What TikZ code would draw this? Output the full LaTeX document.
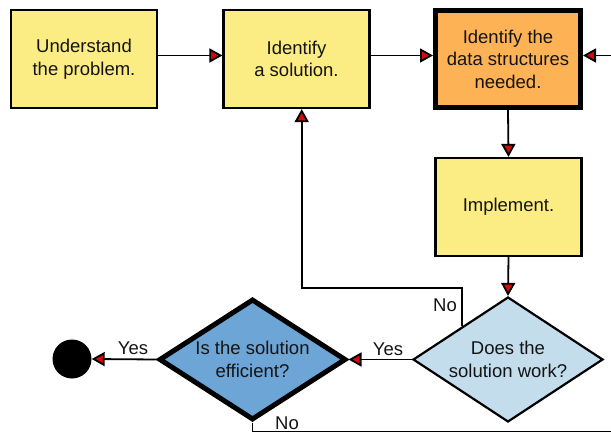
\documentclass[tikz,border=0pt]{standalone}
\usepackage{fontspec}
\setmainfont{Liberation Sans}
\usetikzlibrary{shapes.geometric,arrows.meta,calc}
\definecolor{boxyellow}{RGB}{251,236,132}
\definecolor{boxorange}{RGB}{253,178,85}
\definecolor{dialight}{RGB}{195,221,237}
\definecolor{diadark}{RGB}{108,165,214}
\definecolor{arrowred}{RGB}{210,10,10}
\begin{document}
\begin{tikzpicture}[x=1pt,y=-1pt,
  txt/.style={font=\fontsize{18.5}{22.5}\selectfont, text=black!92},
  box/.style={txt, draw, line width=2.2pt, fill=boxyellow, minimum width=146pt, minimum height=98pt, inner sep=0pt, align=center},
  thickbox/.style={box, line width=5pt, fill=boxorange, minimum width=145pt, minimum height=97pt},
  dia/.style={txt, diamond, draw, line width=2.2pt, fill=dialight, minimum width=190pt, minimum height=125pt, inner sep=0pt, align=center, aspect=1.5},
  thickdia/.style={dia, line width=5pt, fill=diadark, minimum width=187pt, minimum height=121pt},
  lbl/.style={txt, inner sep=0pt},
  conn/.style={line width=1.8pt, -{Triangle[length=13pt,width=14pt,fill=arrowred]}},
  plainline/.style={line width=1.8pt},
]
\useasboundingbox (0,0) rectangle (611,433);

\node[box] (box1) at (84,59) {Understand\\the problem.};
\node[box] (box2) at (296.5,59) {Identify\\a solution.};
\node[thickbox] (box3) at (508,59) {Identify the\\data structures\\needed.};
\node[box] (box4) at (508.5,207) {Implement.};
\node[dia] (dia2) at (508,359.5) {Does the\\solution work?};
\node[thickdia] (dia1) at (252.5,359.5) {Is the solution\\efficient?};
\node[circle, fill=black, minimum size=39pt, inner sep=0pt] (endpt) at (72,359) {};

\coordinate (righttop) at (612,55.5);
\coordinate (rightlow) at (612,431.5);
\coordinate (noturn) at (301.7,287.7);
\coordinate (nostart) at ($(dia2.west)!0.523!(dia2.north)$);

\draw[conn] ([yshift=3.5pt]box1.east) -- ([yshift=3.5pt]box2.west);
\draw[conn] ([yshift=3.5pt]box2.east) -- ([yshift=3.5pt]box3.west);
\draw[conn] (righttop) -- ([yshift=3.5pt]box3.east);
\draw[conn] (box3.south) -- (box4.south |- box4.north);
\draw[conn] (box4.south) -- (dia2.north);
\draw[conn] (nostart) |- (noturn) -- ([xshift=5.2pt]box2.south);
\draw[conn] (dia2.west) -- (dia1.east);
\draw[conn] (dia1.west) -- (endpt.east);
\draw[plainline] (dia1.south) |- (rightlow);

\node[lbl] (yes1) at (133,348) {Yes};
\node[lbl] (yes2) at (388,349) {Yes};
\node[lbl] (no1) at (445,305) {No};
\node[lbl] (no2) at (287,423) {No};
\end{tikzpicture}
\end{document}
